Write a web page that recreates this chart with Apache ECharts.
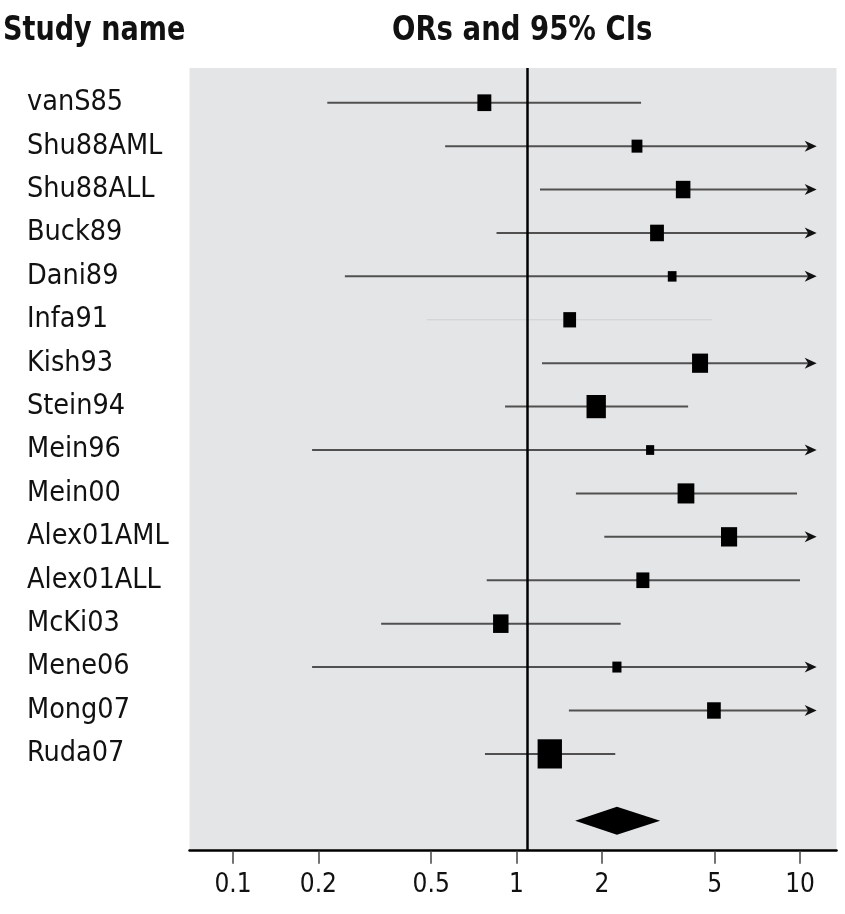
<!DOCTYPE html>
<html><head><meta charset="utf-8">
<script src="https://cdn.jsdelivr.net/npm/echarts@6/dist/echarts.min.js"></script>
<style>html,body{margin:0;padding:0;background:#fff}#c{width:845px;height:914px}</style>
</head><body><div id="c"></div>
<script>
// ---- data ----
const studies = ['vanS85','Shu88AML','Shu88ALL','Buck89','Dani89','Infa91','Kish93','Stein94','Mein96','Mein00','Alex01AML','Alex01ALL','McKi03','Mene06','Mong07','Ruda07'];
const oddsRatio = [0.77, 2.66, 3.87, 3.13, 3.54, 1.54, 4.44, 1.91, 2.96, 3.96, 5.62, 2.79, 0.88, 2.26, 4.97, 1.31];
const ciLower   = [0.215, 0.56, 1.21, 0.85, 0.248, 0.483, 1.23, 0.911, 0.19, 1.62, 2.04, 0.785, 0.333, 0.19, 1.53, 0.774];
const ciUpper   = [2.75, 12.6, 12.4, 11.6, 50.5, 4.89, 16.0, 4.03, 46.0, 9.76, 15.5, 10.0, 2.33, 27.0, 16.1, 2.23];
const weights   = [5.6, 3.4, 6.1, 5.5, 2.2, 4.7, 7.4, 10.8, 1.9, 8.1, 7.5, 4.9, 6.9, 2.4, 5.4, 17.1];
const pooledOR = 2.26, pooledLower = 1.61, pooledUpper = 3.21;
const tickValues = [0.1, 0.2, 0.5, 1, 2, 5, 10];
const nullLineValue = 1.09;
const headerLeft = 'Study name';
const headerRight = 'ORs and 95% CIs';

// ---- layout / style ----
const axisMin = 0.0702, axisMax = 13.45, arrowCap = 11.45;
const pooledRow = 16.54;
const boxAreaPerWeight = 41.6, boxAspect = 1.2;
const faintRows = {'Infa91': true};
const labelFont = '"DejaVu Sans Condensed",sans-serif';

const chart = echarts.init(document.getElementById('c'), null, {renderer:'canvas'});

function renderCI(params, api) {
  const lo = api.value(0), hi = api.value(1), row = api.value(2);
  const capped = hi > arrowCap;
  const p0 = api.coord([lo, row]);
  const p1 = api.coord([capped ? arrowCap : hi, row]);
  const faint = faintRows[studies[params.dataIndex]];
  const children = [{
    type: 'line',
    shape: {x1: p0[0], y1: p0[1], x2: capped ? p1[0] - 8 : p1[0], y2: p1[1]},
    style: {stroke: faint ? '#cfcfcf' : '#505050', lineWidth: faint ? 1 : 2}
  }];
  if (capped) {
    children.push({
      type: 'polygon',
      shape: {points: [[p1[0], p1[1]], [p1[0] - 12, p1[1] - 5.5], [p1[0] - 8.5, p1[1]], [p1[0] - 12, p1[1] + 5.5]]},
      style: {fill: '#111'}
    });
  }
  return {type: 'group', children};
}

function renderBox(params, api) {
  const c = api.coord([api.value(0), api.value(1)]);
  const area = api.value(2) * boxAreaPerWeight;
  const w = Math.sqrt(area / boxAspect), h = w * boxAspect;
  return {type: 'rect', shape: {x: c[0] - w / 2, y: c[1] - h / 2, width: w, height: h}, style: {fill: '#000'}};
}

function renderDiamond(params, api) {
  const row = api.value(3);
  const l = api.coord([api.value(0), row]);
  const m = api.coord([api.value(1), row]);
  const r = api.coord([api.value(2), row]);
  const hh = 14;
  return {type: 'polygon', shape: {points: [[l[0], l[1]], [m[0], m[1] - hh], [r[0], r[1]], [m[0], m[1] + hh]]}, style: {fill: '#000'}};
}

const headerStyle = {font: 'bold 34px "DejaVu Sans Condensed", sans-serif', fill: '#111', verticalAlign: 'middle', align: 'left'};

const option = {
  animation: false,
  backgroundColor: '#fff',
  graphic: [
    {type: 'text', x: 3, y: 31, scaleX: 0.885, style: Object.assign({text: headerLeft}, headerStyle)},
    {type: 'text', x: 392, y: 31, scaleX: 0.9, style: Object.assign({text: headerRight}, headerStyle)}
  ],
  grid: {left: 189.5, right: 8.5, top: 68, bottom: 63.3, show: true, backgroundColor: '#e4e5e7', borderWidth: 0},
  xAxis: {
    type: 'log', logBase: 10, min: axisMin, max: axisMax,
    axisLine: {show: true, onZero: false, lineStyle: {color: '#000', width: 2.5}},
    axisTick: {show: true, customValues: tickValues, length: 13, lineStyle: {color: '#444', width: 1.5}},
    axisLabel: {show: true, customValues: tickValues, margin: 22, fontFamily: labelFont, fontSize: 26, color: '#111',
      formatter: v => String(+v.toPrecision(3))},
    splitLine: {show: false}, minorTick: {show: false}
  },
  yAxis: {
    type: 'value', inverse: true, min: -0.8, max: 17.23,
    axisLine: {show: false}, axisTick: {show: false}, splitLine: {show: false},
    axisLabel: {show: true, customValues: studies.map((s, i) => i), align: 'left', margin: 162.5,
      fontFamily: labelFont, fontSize: 28.5, color: '#111', formatter: v => studies[Math.round(v)]}
  },
  series: [
    {
      type: 'custom', name: 'ci', renderItem: renderCI,
      encode: {x: [0, 1], y: 2},
      data: studies.map((s, i) => [ciLower[i], ciUpper[i], i]),
      markLine: {silent: true, symbol: ['none', 'none'], label: {show: false},
        lineStyle: {color: '#000', width: 2.5, type: 'solid'}, data: [{xAxis: nullLineValue}]}
    },
    {
      type: 'custom', name: 'box', renderItem: renderBox,
      encode: {x: 0, y: 1},
      data: studies.map((s, i) => [oddsRatio[i], i, weights[i]])
    },
    {
      type: 'custom', name: 'pooled', renderItem: renderDiamond,
      encode: {x: [0, 1, 2], y: 3},
      data: [[pooledLower, pooledOR, pooledUpper, pooledRow]]
    }
  ]
};
chart.setOption(option);
</script>
</body></html>
